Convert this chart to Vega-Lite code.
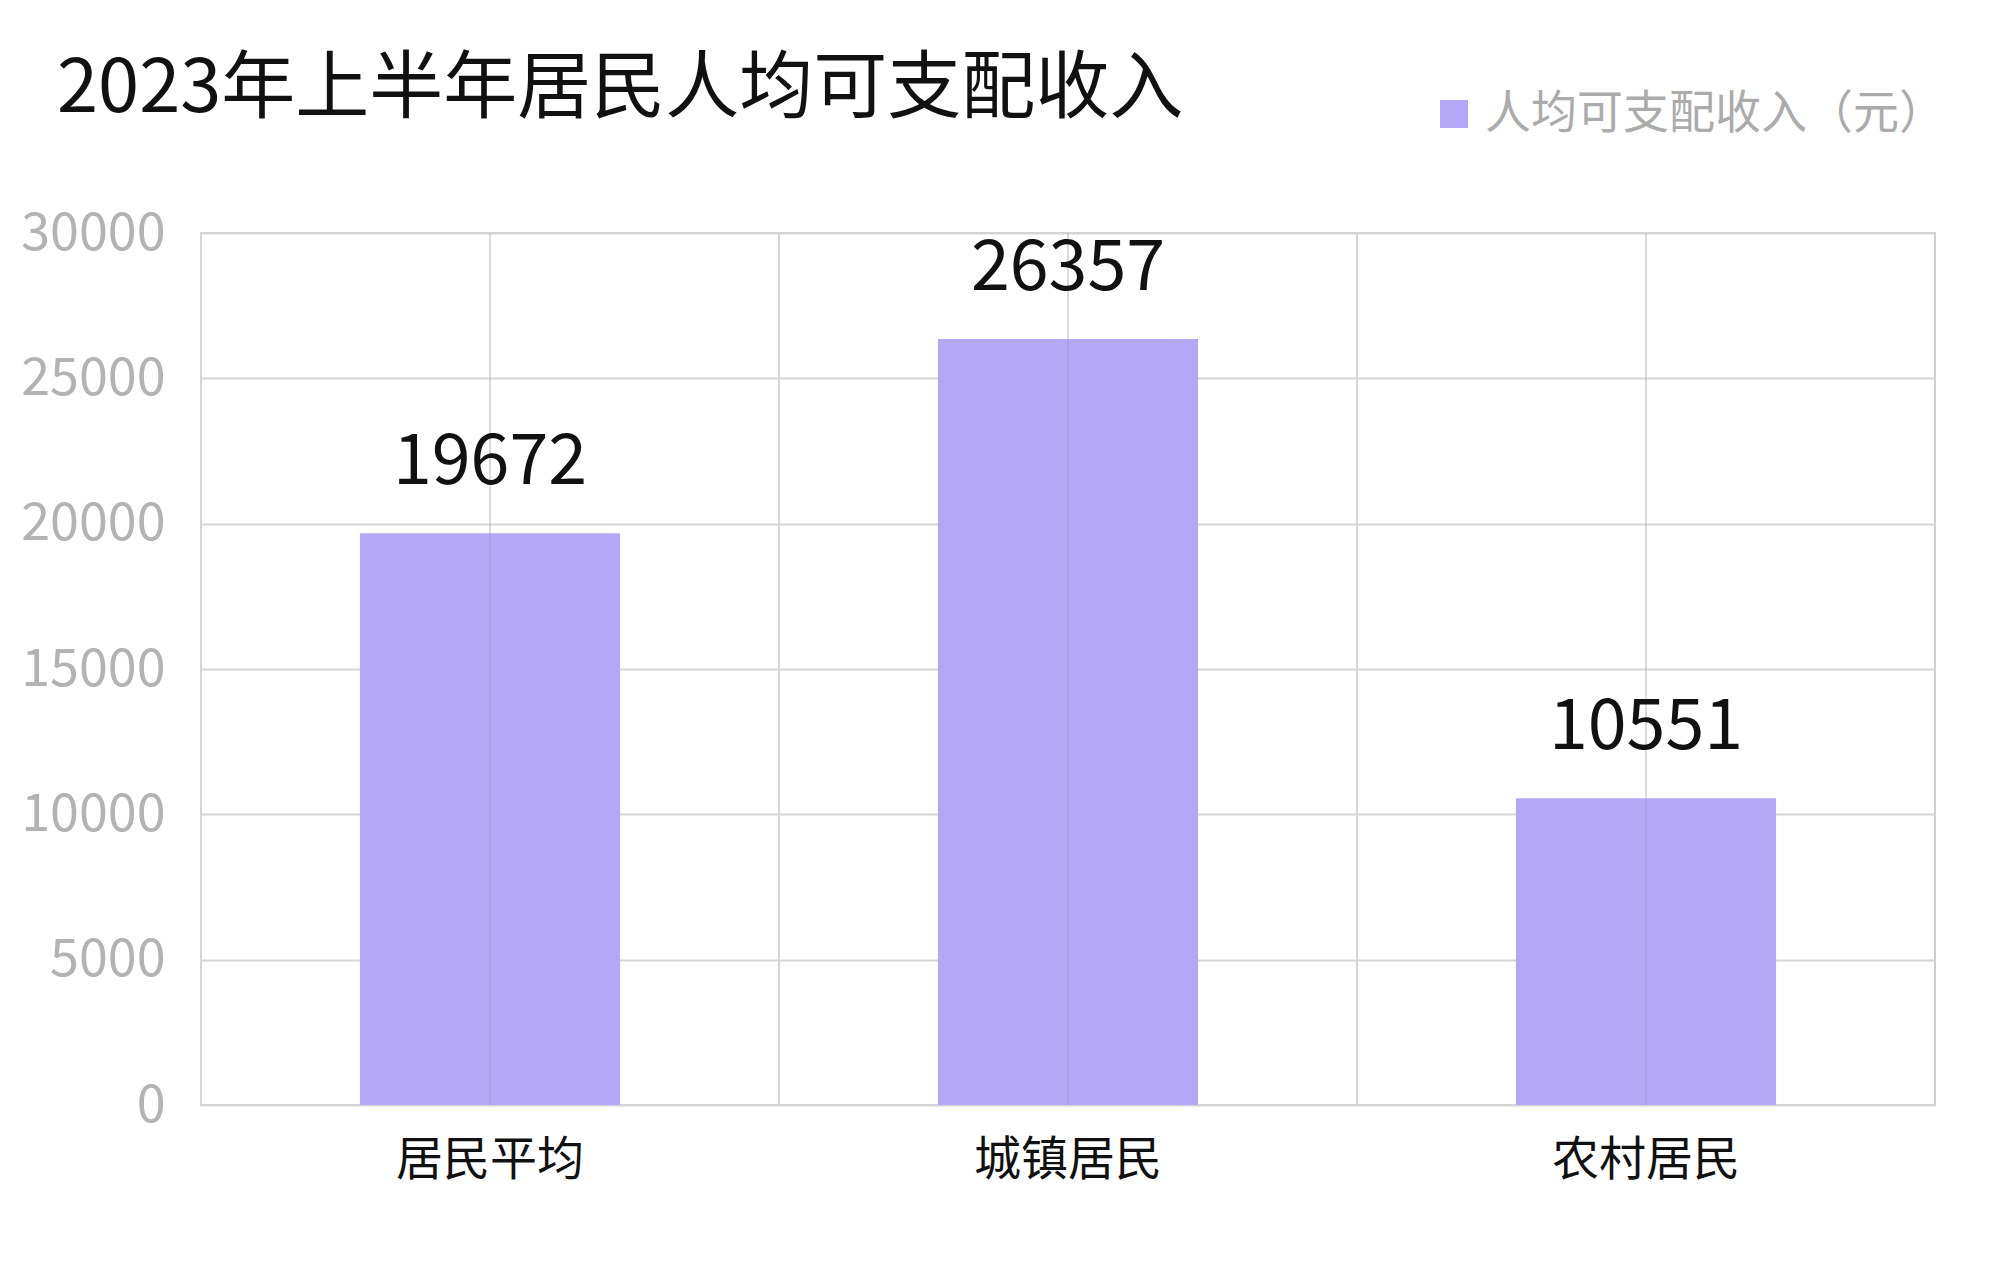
{
  "$schema": "https://vega.github.io/schema/vega-lite/v6.json",
  "width": 1734,
  "height": 872,
  "autosize": {"type": "none"},
  "padding": {"left": 201, "top": 233, "right": 58, "bottom": 175},
  "background": "#ffffff",
  "title": {
    "text": "2023年上半年居民人均可支配收入",
    "anchor": "start",
    "frame": "group",
    "dx": -144,
    "baseline": "alphabetic",
    "offset": -95,
    "font": "Noto Sans CJK SC",
    "fontSize": 74,
    "fontWeight": "normal",
    "color": "#111111"
  },
  "data": {
    "values": [
      {"category": "居民平均", "income": 19672},
      {"category": "城镇居民", "income": 26357},
      {"category": "农村居民", "income": 10551}
    ]
  },
  "layer": [
    {
      "mark": {"type": "bar", "color": "#b4a8f6"},
      "encoding": {
        "x": {
          "field": "category",
          "type": "nominal",
          "sort": null,
          "scale": {"paddingInner": 0.55, "paddingOuter": 0.275},
          "axis": {
            "title": null,
            "labelAngle": 0,
            "ticks": false,
            "domain": false,
            "grid": false,
            "labelFont": "Noto Sans CJK SC",
            "labelFontSize": 47,
            "labelColor": "#111111",
            "labelPadding": 32,
            "labelLimit": 500
          }
        },
        "y": {
          "field": "income",
          "type": "quantitative",
          "scale": {"domain": [0, 30000], "nice": false},
          "axis": {
            "title": null,
            "values": [0, 5000, 10000, 15000, 20000, 25000, 30000],
            "format": "d",
            "ticks": false,
            "domain": false,
            "grid": true,
            "gridColor": "#d6d6d6",
            "gridWidth": 2,
            "labelFont": "Noto Sans CJK SC",
            "labelFontSize": 52,
            "labelColor": "#b3b3b3",
            "labelPadding": 36
          }
        },
        "color": {
          "datum": "人均可支配收入（元）",
          "type": "nominal",
          "scale": {"range": ["#b4a8f6"]},
          "legend": {
            "title": null,
            "orient": "none",
            "legendX": 1230,
            "legendY": -142,
            "padding": 0,
            "symbolType": "square",
            "symbolSize": 784,
            "symbolStrokeWidth": 0,
            "labelFont": "Noto Sans CJK SC",
            "labelFontSize": 46,
            "labelColor": "#ababab",
            "labelOffset": 8,
            "labelLimit": 800
          }
        }
      }
    },
    {
      "mark": {"type": "rule", "color": "#9a94b8", "strokeWidth": 2, "opacity": 0.35},
      "encoding": {
        "x": {"field": "category", "type": "nominal", "sort": null, "axis": null}
      }
    },
    {
      "mark": {"type": "rule", "color": "#d6d6d6", "strokeWidth": 2},
      "encoding": {
        "x": {
          "field": "category",
          "type": "nominal",
          "sort": null,
          "bandPosition": 0,
          "scale": {"paddingInner": 0, "paddingOuter": 0},
          "axis": null
        }
      }
    },
    {
      "mark": {
        "type": "text",
        "baseline": "alphabetic",
        "dy": -49,
        "font": "Noto Sans CJK SC",
        "fontSize": 70,
        "color": "#111111"
      },
      "encoding": {
        "x": {"field": "category", "type": "nominal", "sort": null, "axis": null},
        "y": {"field": "income", "type": "quantitative"},
        "text": {"field": "income", "type": "quantitative", "format": "d"}
      }
    }
  ],
  "resolve": {"scale": {"x": "independent"}},
  "config": {
    "view": {"stroke": "#cfcfcf", "strokeWidth": 2}
  }
}
